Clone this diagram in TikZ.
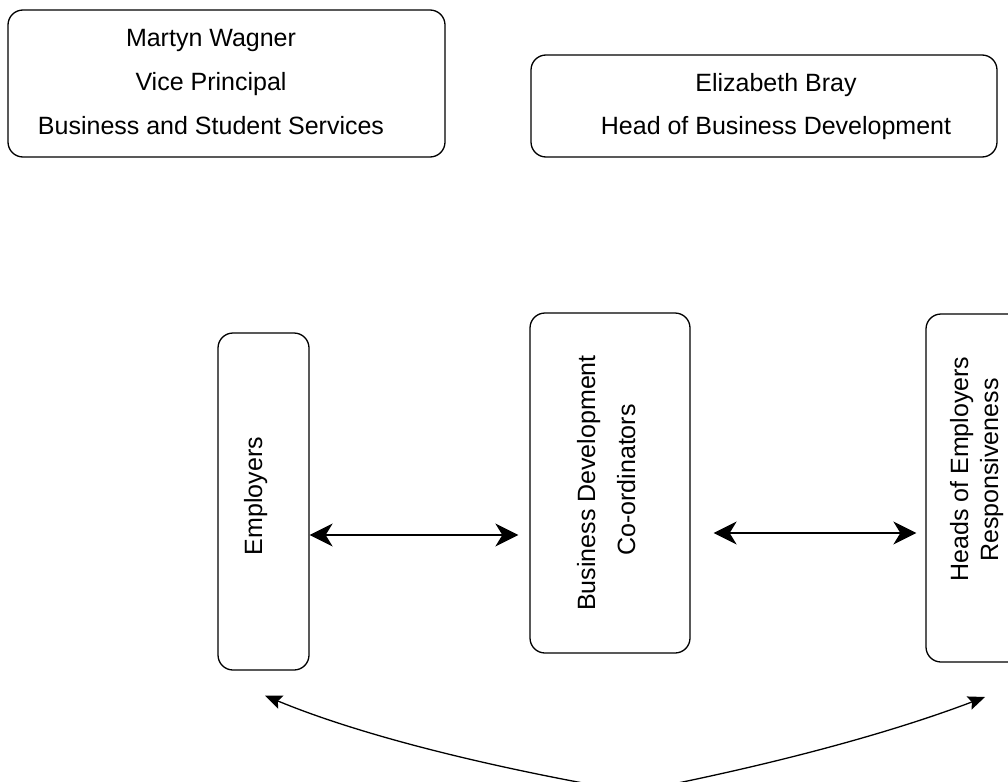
\documentclass[tikz,border=0pt]{standalone}
\usepackage{fontspec}
\setmainfont{Liberation Sans}
\usetikzlibrary{arrows.meta}
\begin{document}
\begin{tikzpicture}[x=1pt,y=-1pt,
  box/.style={draw, line width=1.3pt, rounded corners=15pt, inner sep=0pt},
  lbl/.style={font=\fontsize{25}{30}\selectfont, inner sep=0pt, anchor=base},
  vlbl/.style={lbl, rotate=90},
  harrow/.style={line width=1.3pt, {Stealth[length=23pt,width=23pt,inset=7pt]}-{Stealth[length=23pt,width=23pt,inset=7pt]}},
  carrow/.style={line width=1.3pt, -{Stealth[length=17pt,width=14pt,inset=3pt]}}]
\useasboundingbox (0,0) rectangle (1008,781);
\clip (0,0) rectangle (1008,781);
% boxes
\node[box, minimum width=437pt, minimum height=147pt] (mw) at (226.5,83.5) {};
\node[box, minimum width=466pt, minimum height=102pt] (eb) at (764,106) {};
\node[box, minimum width=91pt, minimum height=337pt] (emp) at (263.5,501.5) {};
\node[box, minimum width=160pt, minimum height=340pt] (bdc) at (610,483) {};
\node[box, minimum width=114pt, minimum height=348pt] (her) at (983,488) {};
% texts
\node[lbl] (mw1) at (211,47) {Martyn Wagner};
\node[lbl] (mw2) at (211,91) {Vice Principal};
\node[lbl] (mw3) at (211,134) {Business and Student Services};
\node[lbl] (eb1) at (776,92) {Elizabeth Bray};
\node[lbl] (eb2) at (776,135) {Head of Business Development};
\node[vlbl] (empt) at (262,496) {Employers};
\node[vlbl] (bdc1) at (595,483) {Business Development};
\node[vlbl] (bdc2) at (635,480) {Co-ordinators};
\node[vlbl] (her1) at (968,469) {Heads of Employers};
\node[vlbl] (her2) at (998,470) {Responsiveness};
% connectors
\draw[harrow] ([yshift=-33.5pt]emp.east) -- ([xshift=-11pt,yshift=-52pt]bdc.west);
\draw[harrow] ([xshift=23pt,yshift=-50pt]bdc.east) -- ([xshift=-9pt,yshift=-45pt]her.west);
\coordinate (low) at (633,792);
\coordinate (ltip) at ([xshift=1.5pt,yshift=-25pt]emp.south);
\coordinate (rtip) at (985,697);
\draw[carrow] (low) .. controls (477.7,765.3) and (355,733) .. (ltip);
\draw[carrow] (low) .. controls (771,765.3) and (888.3,733.7) .. (rtip);
\end{tikzpicture}
\end{document}
